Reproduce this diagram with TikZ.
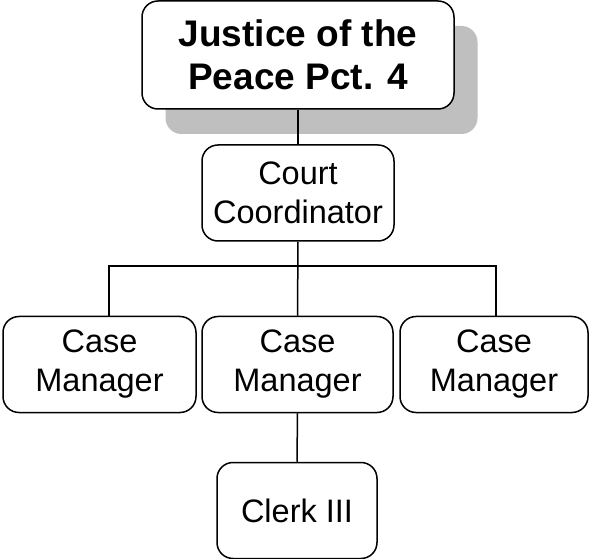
\documentclass[tikz,border=0pt]{standalone}
\usepackage{fontspec}
\setmainfont{Liberation Sans}
\usetikzlibrary{shadows}

\tikzset{
  unit/.style={draw, line width=1.5pt, rounded corners=16pt, align=center,
    inner sep=0pt, font=\fontsize{32.5}{39}\selectfont},
  head/.style={unit, fill=white, font=\fontsize{37}{43}\selectfont\bfseries,
    drop shadow={shadow xshift=23.5pt, shadow yshift=-25pt, fill=black!25, opacity=1}},
  link/.style={line width=1.5pt}
}

\begin{document}
\begin{tikzpicture}[x=1pt, y=-1pt]

        \useasboundingbox (0,0) rectangle (590,559);

        \node[head, minimum width=312pt, minimum height=108pt] (jp) at (298,55)
          {Justice of the\\Peace Pct. 4};

        \begin{scope}[every node/.style={unit, minimum height=96pt}]
          \node[minimum width=192pt] (cc)  at (298,193)   {Court\\Coordinator};
          \node[minimum width=193pt] (cm1) at (99.5,364.5) {Case\\Manager};
          \node[minimum width=191pt] (cm2) at (297.5,364.5) {Case\\Manager};
          \node[minimum width=188pt] (cm3) at (494,364.5)  {Case\\Manager};
          \node[minimum width=160pt] (ck)  at (297,510.5)  {Clerk III};
        \end{scope}

        \coordinate (bl) at (109,266);
        \coordinate (br) at (496,266);

        \begin{scope}[every path/.style={link}]
          \draw (jp.south) -- (cc.north);
          \draw (cc.south) -- (cm2.north);
          \draw (bl |- cm1.north) -- (bl) -- (br) -- (br |- cm3.north);
          \draw (cm2.south) -- (ck.north);
        \end{scope}

      \end{tikzpicture}
\end{document}
